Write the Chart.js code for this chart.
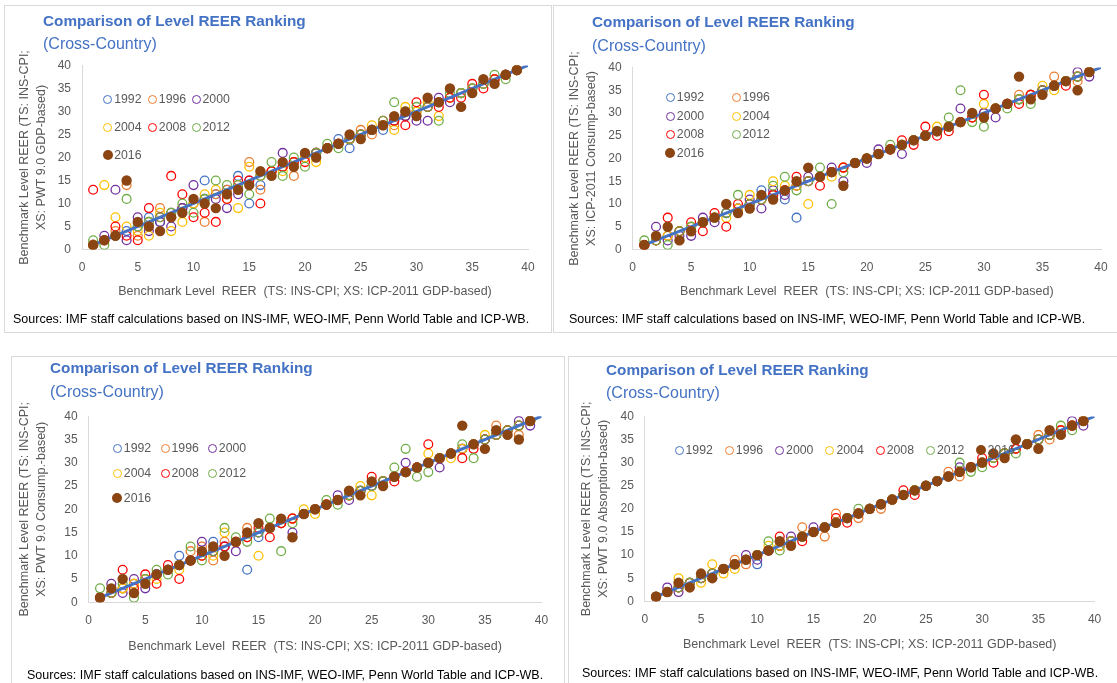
<!DOCTYPE html>
<html><head><meta charset="utf-8">
<script src="https://cdn.jsdelivr.net/npm/chart.js@4.4.1/dist/chart.umd.min.js"></script>
<style>
body{margin:0;background:#fff;width:1117px;height:683px;overflow:hidden;position:relative;font-family:"Liberation Sans",Arial,sans-serif}
.box{position:absolute;border:1px solid #d9d9d9;box-sizing:border-box;pointer-events:none}
canvas{position:absolute}
.t{position:absolute;color:#4472c4;white-space:nowrap;line-height:20px}
.t1{font-weight:bold;font-size:15.3px}
.t2{font-size:16px}
.src{position:absolute;font-size:12.5px;color:#000;white-space:nowrap;line-height:14px}
.lg{position:absolute;font-size:12.3px;color:#595959;white-space:nowrap;line-height:14px}
.mk{position:absolute;border-radius:50%;box-sizing:border-box}
</style></head><body>
<script>
// ---------- DATA ----------
const ranks = [1,2,3,4,5,6,7,8,9,10,11,12,13,14,15,16,17,18,19,20,21,22,23,24,25,26,27,28,29,30,31,32,33,34,35,36,37,38,39];
const years = ['1992','1996','2000','2004','2008','2012','2016'];
const lineEnds = [1, 40];
const xTicks = [0,5,10,15,20,25,30,35,40];

// Panel 1: XS PWT 9.0 GDP-based
const pwtGdp1992 = [1,2,3,4,5,7,6,8,9,10,15,12,13,16,10,14,17,18,19,20,21,22,24,22,25,26,26,28,29,30,31,32,33,34,35,36,37,38,39];
const pwtGdp1996 = [1,2,4,14,3,6,9,8,9,10,6,12,13,14,19,13,17,18,16,20,21,22,23,24,26,25,27,27,29,30,31,32,33,34,35,36,37,38,39];
const pwtGdp2000 = [1,3,13,2,7,4,6,5,9,14,11,11,9,12,15,16,17,21,19,20,21,22,23,24,25,26,27,28,29,28,28,33,32,34,35,36,37,38,39];
const pwtGdp2004 = [1,14,7,5,4,3,8,4,6,10,12,13,11,9,18,16,17,17,19,20,19,22,23,24,25,27,27,26,31,30,32,29,33,34,35,36,37,38,39];
const pwtGdp2008 = [13,2,5,3,2,9,7,16,12,7,8,6,11,15,15,10,17,18,19,19,21,22,23,24,25,26,28,28,27,32,31,31,33,33,36,35,37,38,39];
const pwtGdp2012 = [2,1,3,11,5,6,7,8,10,8,11,15,14,14,12,16,19,16,20,18,21,23,22,24,25,26,28,32,30,31,31,28,34,34,35,36,38,37,39];
const pwtGdp2016 = [1,2,3,15,6,5,4,7,8,11,10,9,12,13,14,17,16,19,18,21,20,22,23,25,24,26,27,29,30,29,33,32,35,31,34,37,36,38,39];

// Panel 2: XS ICP-2011 Consumption-based
const icpCons1992 = [1,2,3,4,5,6,7,8,9,10,13,12,11,7,15,16,17,18,19,20,21,22,23,24,25,26,27,28,29,30,31,32,33,34,35,36,37,38,39];
const icpCons1996 = [1,2,3,4,5,6,7,8,9,10,11,12,13,14,15,16,17,18,19,20,21,22,23,24,25,26,27,28,29,30,31,32,34,34,35,38,37,37,39];
const icpCons2000 = [1,5,2,3,3,7,6,8,9,11,9,13,12,14,16,16,18,15,19,19,22,22,21,24,25,26,27,31,29,30,29,32,33,34,35,36,37,39,38];
const icpCons2004 = [1,2,3,4,5,6,7,7,9,12,11,15,14,14,10,16,16,18,19,20,21,22,23,24,25,27,27,28,29,32,31,32,33,34,36,35,37,38,39];
const icpCons2008 = [1,2,7,4,6,4,8,5,10,10,11,12,13,16,15,14,17,18,19,20,21,22,24,23,27,25,26,28,29,34,31,32,32,34,35,36,36,38,39];
const icpCons2012 = [2,2,1,4,5,6,7,8,12,10,11,14,16,13,15,18,10,17,19,20,21,23,23,24,25,26,29,35,28,27,31,31,33,32,35,36,37,38,39];
const icpCons2016 = [1,3,5,2,4,6,7,10,8,9,12,11,13,15,18,16,17,14,19,20,21,22,23,24,25,26,27,28,30,29,31,32,38,33,34,36,37,35,39];

// Panel 3: XS PWT 9.0 Consumption-based
const pwtCons1992 = [1,2,3,4,5,6,7,10,9,10,13,12,13,7,14,16,17,18,19,20,21,22,23,24,25,26,27,28,29,30,31,32,33,34,35,36,37,38,39];
const pwtCons1996 = [1,2,3,4,5,6,7,8,11,12,9,13,13,16,15,16,17,18,19,20,21,22,23,24,25,26,27,28,29,30,31,32,33,34,35,38,37,36,39];
const pwtCons2000 = [1,4,2,5,3,6,7,8,9,13,11,12,11,14,15,16,17,15,19,20,21,23,22,24,25,26,27,30,29,30,29,32,33,34,35,36,37,39,38];
const pwtCons2004 = [1,2,3,4,5,5,7,7,9,10,10,15,13,14,10,16,17,18,20,19,21,22,23,25,23,26,27,28,29,32,31,31,33,34,36,36,37,38,39];
const pwtCons2008 = [1,2,7,3,6,4,8,5,9,10,11,12,13,14,16,14,17,18,19,20,21,22,23,24,27,26,26,28,29,34,31,32,31,33,35,36,37,38,39];
const pwtCons2012 = [3,2,4,1,5,7,6,8,12,9,11,16,14,13,15,18,11,17,19,20,22,21,23,24,25,26,29,33,27,28,31,32,34,31,35,36,37,38,39];
const pwtCons2016 = [1,3,5,2,4,6,7,8,9,11,12,10,13,15,17,16,18,14,19,20,21,22,24,23,26,25,27,28,29,30,31,32,38,34,33,37,36,35,39];

// Panel 4: XS PWT 9.0 Absorption-based
const pwtAbs1992 = [1,2,3,4,5,6,7,8,9,8,11,12,13,14,15,16,17,18,19,20,21,22,23,24,25,26,27,28,29,30,31,32,33,34,35,36,37,38,39];
const pwtAbs1996 = [1,2,3,4,5,6,7,9,8,10,11,12,13,16,15,14,19,18,18,20,20,22,23,24,25,26,28,27,29,30,31,32,33,34,36,35,37,38,39];
const pwtAbs2000 = [1,3,2,4,5,6,7,8,10,9,11,12,14,14,16,16,17,18,19,20,21,22,23,24,25,26,27,29,29,30,31,32,33,34,35,36,37,39,38];
const pwtAbs2004 = [1,2,5,4,4,8,6,7,9,10,12,12,13,14,15,16,17,18,19,20,21,22,23,24,25,26,27,28,29,30,31,32,33,34,35,36,37,38,39];
const pwtAbs2008 = [1,2,3,4,5,6,7,8,9,10,11,14,13,13,15,16,18,17,19,20,21,22,24,23,25,26,27,28,29,31,30,32,33,34,35,36,37,38,39];
const pwtAbs2012 = [1,2,3,4,5,6,7,8,9,10,13,11,13,14,15,16,17,18,20,20,21,22,23,24,25,26,27,30,28,29,31,32,32,34,35,36,38,37,39];
const pwtAbs2016 = [1,2,4,3,6,5,7,8,9,10,11,13,12,14,15,16,17,18,19,20,21,22,23,24,25,26,27,28,29,30,32,31,35,34,33,37,36,38,39];

const chartTitle = 'Comparison of Level REER Ranking';
const chartSubtitle = '(Cross-Country)';
const xTitle = 'Benchmark Level  REER  (TS: INS-CPI; XS: ICP-2011 GDP-based)';
const yTitleTop = 'Benchmark Level REER (TS: INS-CPI;';
const yTitles = ['XS: PWT 9.0 GDP-based)','XS: ICP-2011 Consump-based)','XS: PWT 9.0 Consump.-based)','XS: PWT 9.0 Absorption-based)'];
const sourceText = 'Sources: IMF staff calculations based on INS-IMF, WEO-IMF, Penn World Table and ICP-WB.';

// ---------- STYLE / LAYOUT ----------
const colors = ['#4472C4','#ED7D31','#7030A0','#FFC000','#FF0000','#70AD47','#8B4513'];
const FONT = '"Liberation Sans", Arial, sans-serif';
Chart.defaults.font.family = FONT;

const panels = [
  {series:[pwtGdp1992,pwtGdp1996,pwtGdp2000,pwtGdp2004,pwtGdp2008,pwtGdp2012,pwtGdp2016], yt:yTitles[0],
   x:4,y:5,w:548,h:328,yw:78,xh:83.5,pt:60.5,pr:24,ytPad:12,xtPad:33.5,
   title:{x:43,y1:20.5,y2:44},src:{x:13,y:319},
   legend:[[107.7,99.3],[152.3,99.3],[196,99.3],[107.7,127],[152.3,127],[196,127],[107.7,155]]},
  {series:[icpCons1992,icpCons1996,icpCons2000,icpCons2004,icpCons2008,icpCons2012,icpCons2016], yt:yTitles[1],
   x:553,y:5,w:566,h:328,yw:79.6,xh:83.5,pt:62.5,pr:18,ytPad:13,xtPad:33.5,
   title:{x:592,y1:22,y2:46},src:{x:569,y:319},
   legend:[[670.3,97.3],[736,97.3],[670.3,116],[736,116],[670.3,134],[736,134],[670.3,152.7]]},
  {series:[pwtCons1992,pwtCons1996,pwtCons2000,pwtCons2004,pwtCons2008,pwtCons2012,pwtCons2016], yt:yTitles[2],
   x:11,y:356,w:554,h:330,yw:77.7,xh:83.7,pt:60.3,pr:23.5,ytPad:5,xtPad:31.5,
   title:{x:50,y1:368,y2:392},src:{x:27,y:675},
   legend:[[117.3,448.3],[165,448.3],[212.3,448.3],[117.3,473.3],[165,473.3],[212.3,473.3],[117.3,497.7]]},
  {series:[pwtAbs1992,pwtAbs1996,pwtAbs2000,pwtAbs2004,pwtAbs2008,pwtAbs2012,pwtAbs2016], yt:yTitles[3],
   x:568,y:356,w:550,h:330,yw:76.8,xh:84.7,pt:60.4,pr:23.4,ytPad:10,xtPad:33.5,
   title:{x:606,y1:370,y2:393},src:{x:582,y:673},
   legend:[[679,450],[729.3,450],[779.6,450],[829.9,450],[880.2,450],[930.5,450],[981,450]]}
];

function addDiv(cls, text, css){
  const d = document.createElement('div');
  d.className = cls; if (text) d.textContent = text;
  d.style.cssText = css; document.body.appendChild(d); return d;
}

function makePanel(p){
  const cv = document.createElement('canvas');
  cv.width = p.w; cv.height = p.h;
  cv.style.left = p.x + 'px'; cv.style.top = p.y + 'px';
  cv.style.width = p.w + 'px'; cv.style.height = p.h + 'px';
  document.body.appendChild(cv);

  const datasets = [{
    type:'line', label:'45', data: lineEnds.map(v => ({x:v, y:v})),
    borderColor:'#4472C4', borderWidth:3, pointRadius:0, borderCapStyle:'round', order:1, fill:false
  }];
  years.forEach((yr, i) => {
    const filled = (yr === '2016');
    datasets.push({
      label: yr,
      data: ranks.map((r, j) => ({x: r, y: p.series[i][j]})),
      showLine:false,
      pointRadius: filled ? 5.2 : 4.4,
      pointBorderWidth: filled ? 0 : 1.3,
      pointBackgroundColor: filled ? colors[i] : 'rgba(0,0,0,0)',
      pointBorderColor: colors[i],
      order: filled ? 0 : 10 - i
    });
  });

  new Chart(cv, {
    type:'scatter',
    data:{datasets},
    options:{
      responsive:false, animation:false, devicePixelRatio:1,
      layout:{padding:{left:0, top:p.pt, right:p.pr, bottom:0}},
      plugins:{legend:{display:false}, tooltip:{enabled:false}},
      scales:{
        x:{type:'linear', min:0, max:40,
           afterBuildTicks: s => { s.ticks = xTicks.map(v => ({value:v})); },
           ticks:{color:'#595959', font:{size:12}, padding:11, maxRotation:0, autoSkip:false},
           grid:{display:false, drawTicks:false},
           border:{display:true, color:'#D9D9D9', width:1},
           title:{display:true, text:xTitle, color:'#595959', font:{size:12.5, lineHeight:1.2}, padding:{top:0, bottom:p.xtPad}},
           afterFit: s => { s.height = p.xh; }
        },
        y:{type:'linear', min:0, max:40,
           afterBuildTicks: s => { s.ticks = xTicks.map(v => ({value:v})); },
           ticks:{color:'#595959', font:{size:12}, padding:11},
           grid:{display:false, drawTicks:false},
           border:{display:true, color:'#D9D9D9', width:1},
           title:{display:true, text:[yTitleTop, p.yt], color:'#595959', font:{size:12.5, lineHeight:1.35}, padding:{top:p.ytPad, bottom:0}},
           afterFit: s => { s.width = p.yw; }
        }
      }
    }
  });

  addDiv('box', '', `left:${p.x}px;top:${p.y}px;width:${p.w}px;height:${p.h}px;`);
  addDiv('t t1', chartTitle, `left:${p.title.x}px;top:${p.title.y1-10}px;`);
  addDiv('t t2', chartSubtitle, `left:${p.title.x}px;top:${p.title.y2-10}px;`);
  addDiv('src', sourceText, `left:${p.src.x}px;top:${p.src.y-7}px;`);
  years.forEach((yr, i) => {
    const [mx, my] = p.legend[i];
    const filled = (yr === '2016');
    const d = filled ? 10.4 : 9;
    addDiv('mk', '', `left:${mx-d/2}px;top:${my-d/2}px;width:${d}px;height:${d}px;` +
      (filled ? `background:${colors[i]};` : `border:1.3px solid ${colors[i]};`));
    addDiv('lg', yr, `left:${mx+6.5}px;top:${my-7}px;`);
  });
}

panels.forEach(makePanel);
</script>
</body></html>
